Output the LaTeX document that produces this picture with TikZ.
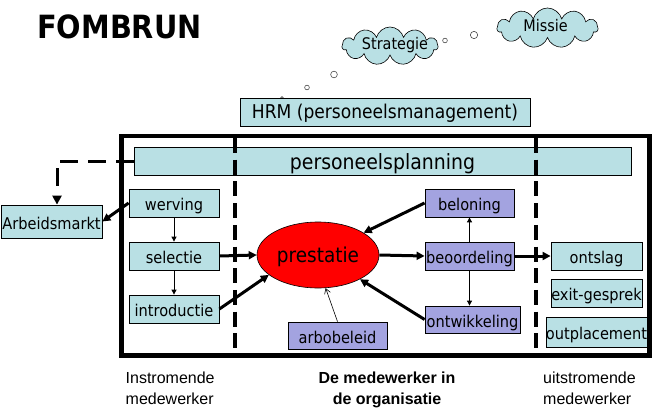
\documentclass[tikz,border=0pt]{standalone}
\usepackage{fontspec}
\setmainfont{DejaVu Sans Condensed}
\newfontfamily\arialfont{Liberation Sans}
\usetikzlibrary{arrows.meta,shapes.geometric,shapes.symbols}
\definecolor{lblue}{RGB}{185,224,228}
\definecolor{lav}{RGB}{163,163,224}
\definecolor{pred}{RGB}{255,0,0}
\begin{document}
\begin{tikzpicture}[x=1pt,y=-1pt,
  bx/.style={draw=black, line width=0.8pt, inner sep=0pt, font=\fontsize{16.2}{18}\selectfont, text height=15pt, text depth=0pt},
  bb/.style={bx, fill=lblue},
  bl/.style={bx, fill=lav},
  thk/.style={line width=3pt, -{Triangle[length=8pt,width=8pt]}},
  thn/.style={line width=0.9pt, -{Triangle[length=5pt,width=5pt]}},
  arb/.style={line width=0.6pt, -{Straight Barb[length=5pt,width=6pt]}},
  sepline/.style={line width=4pt, dash pattern=on 15pt off 6.7pt},
  dsharrow/.style={line width=3pt, dash pattern=on 18pt off 10pt, -{Triangle[length=9pt,width=9pt]}},
  cld/.style={cloud, cloud puffs=11, cloud ignores aspect, draw=black, line width=0.6pt, fill=lblue, inner sep=0pt},
  bub/.style={circle, draw=black!70, line width=0.6pt, fill=white, inner sep=0pt},
  lbl/.style={inner sep=0pt, font=\arialfont\fontsize{16}{21}\selectfont}
]
\useasboundingbox (0,0) rectangle (658,407);

% title
\node[anchor=base west, inner sep=0pt, font=\bfseries\fontsize{32}{34}\selectfont] (title) at (37,38) {FOMBRUN};

% thought bubbles and clouds
\node[bub, minimum size=2.7] (b0) at (282,98) {};
\node[bub, minimum size=4.7] (b1) at (307,87.5) {};
\node[bub, minimum size=6.7] (b2) at (334,74.5) {};
\node[bub, minimum size=4.7] (b3) at (445,40.5) {};
\node[bub, minimum size=7.3] (b4) at (474,35) {};
\node[cld, minimum width=96, minimum height=38,
  label={[font=\fontsize{16}{18}\selectfont, xshift=5pt, yshift=1pt]center:Strategie}] (strat) at (390,46) {};
\node[cld, minimum width=101, minimum height=40,
  label={[font=\fontsize{16}{18}\selectfont, xshift=-2pt, yshift=2pt]center:Missie}] (missie) at (547.5,28) {};

% HRM
\node[bb, minimum width=290, minimum height=28, font=\fontsize{19}{21}\selectfont, text height=13pt] (hrm) at (385,112) {HRM (personeelsmanagement)};

% frame
\node[draw=black, line width=4.5pt, minimum width=528, minimum height=219.5, inner sep=0pt] (frame) at (385.5,245.75) {};

% boxes
\node[bb, minimum width=497, minimum height=28, font=\fontsize{21}{23}\selectfont, text height=16.5pt] (plan) at (382.5,161) {personeelsplanning};
\node[bb, minimum width=101, minimum height=33] (arbeid) at (51.5,221.5) {Arbeidsmarkt};
\node[bb, minimum width=90, minimum height=28] (werv) at (174,203) {werving};
\node[bb, minimum width=90, minimum height=28] (sel) at (174,256) {selectie};
\node[bb, minimum width=90, minimum height=28] (intro) at (174,309) {introductie};
\node[ellipse, draw=black, line width=0.6pt, fill=pred, minimum width=122, minimum height=66, inner sep=0pt,
  font=\fontsize{20.5}{22}\selectfont, text height=14.6pt, text depth=0pt] (prest) at (318,255) {prestatie};
\node[bl, minimum width=89, minimum height=28] (belon) at (469.5,203) {beloning};
\node[bl, minimum width=89, minimum height=28] (beoord) at (469.5,256) {beoordeling};
\node[bl, minimum width=95, minimum height=27] (ontw) at (472.5,319.5) {ontwikkeling};
\node[bl, minimum width=99, minimum height=27] (arbo) at (337.5,335.5) {arbobeleid};
\node[bb, minimum width=91, minimum height=28] (ontslag) at (596.5,256) {ontslag};
\node[bb, minimum width=91, minimum height=28] (exit) at (596.5,293) {exit-gesprek};
\node[bb, minimum width=101, minimum height=30] (outpl) at (596.5,332) {outplacement};

% connectors
\draw[dsharrow] (plan.west) -| ([xshift=5.5pt]arbeid.north);
\draw[thk] (werv.west) -- (arbeid.east);
\draw[thn] (werv.south) -- (sel.north);
\draw[thn] (sel.south) -- (intro.north);
\draw[thk] (sel.east) -- (prest.west);
\draw[thk] (intro.east) -- (prest.202);
\draw[thk] (belon.west) -- (prest.26);
\draw[thk] (prest.east) -- (beoord.west);
\draw[thn] (beoord.north) -- (belon.south);
\draw[thn] (beoord.south) -- (beoord.south |- ontw.north);
\draw[thk] (ontw.west) -- (prest.-30);
\draw[arb] (arbo.north) -- (prest.-77);
\draw[thk] (beoord.east) -- (ontslag.west);

% separating dashed lines
\draw[sepline] (235,138) -- (235,354);
\draw[sepline] (536,138) -- (536,354);

% bottom labels
\node[lbl, anchor=north west, align=left] (instr) at (125.5,372) {Instromende\\medewerker};
\node[lbl, anchor=north, align=center, font=\arialfont\bfseries\fontsize{16}{21}\selectfont] (mid) at (387,372) {De medewerker in\\de organisatie};
\node[lbl, anchor=north west, align=left] (uit) at (543,372) {uitstromende\\medewerker};
\end{tikzpicture}
\end{document}
